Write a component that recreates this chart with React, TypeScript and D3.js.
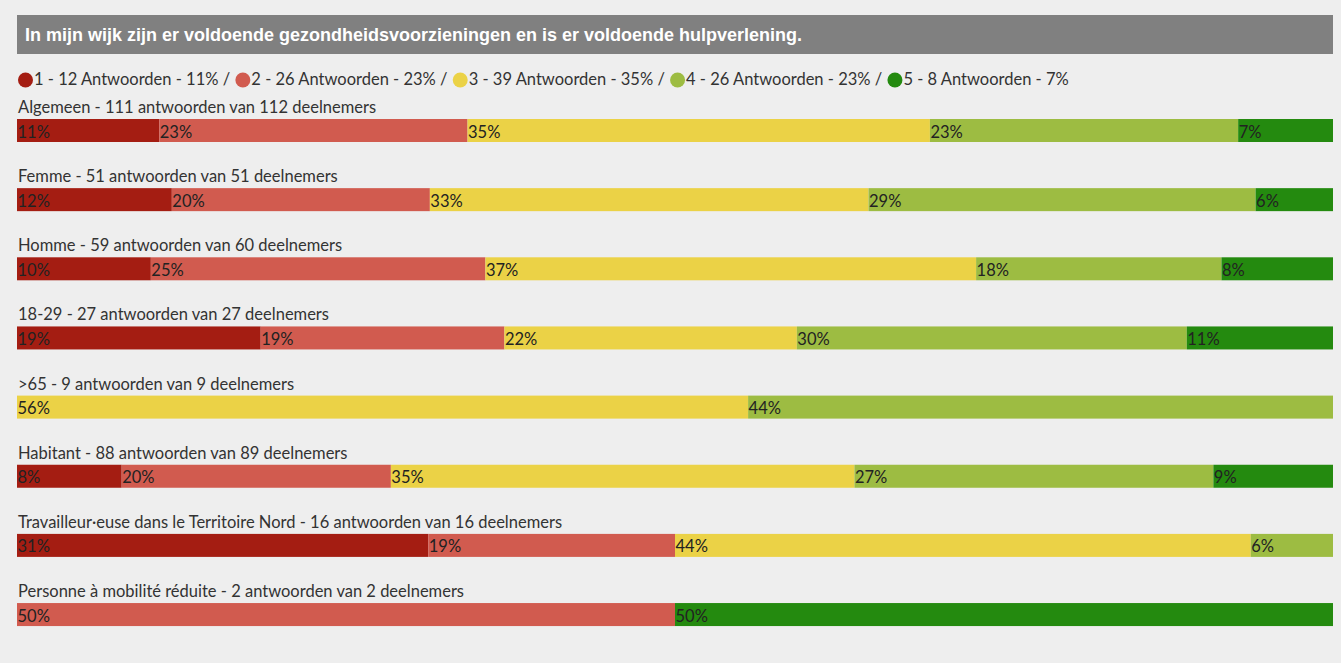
import { useEffect, useRef } from "react"
import * as d3 from "d3"

const title = "In mijn wijk zijn er voldoende gezondheidsvoorzieningen en is er voldoende hulpverlening."

const answers = ["1", "2", "3", "4", "5"]
const colors = ["#a41d12", "#d15b4f", "#ebd246", "#9dbc42", "#248a0f"]

const legendCounts = [12, 26, 39, 26, 8]
const legendPcts = ["11%", "23%", "35%", "23%", "7%"]

const groups = [
  "Algemeen - 111 antwoorden van 112 deelnemers",
  "Femme - 51 antwoorden van 51 deelnemers",
  "Homme - 59 antwoorden van 60 deelnemers",
  "18-29 - 27 antwoorden van 27 deelnemers",
  ">65 - 9 antwoorden van 9 deelnemers",
  "Habitant - 88 antwoorden van 89 deelnemers",
  "Travailleur·euse dans le Territoire Nord - 16 antwoorden van 16 deelnemers",
  "Personne à mobilité réduite - 2 antwoorden van 2 deelnemers",
]

// answer counts per group (1..5)
const counts = [
  [12, 26, 39, 26, 8],
  [6, 10, 17, 15, 3],
  [6, 15, 22, 11, 5],
  [5, 5, 6, 8, 3],
  [0, 0, 5, 4, 0],
  [7, 18, 31, 24, 8],
  [5, 3, 7, 1, 0],
  [0, 1, 0, 0, 1],
]

// percentages as printed on the bars
const pctLabels = [
  ["11%", "23%", "35%", "23%", "7%"],
  ["12%", "20%", "33%", "29%", "6%"],
  ["10%", "25%", "37%", "18%", "8%"],
  ["19%", "19%", "22%", "30%", "11%"],
  ["", "", "56%", "44%", ""],
  ["8%", "20%", "35%", "27%", "9%"],
  ["31%", "19%", "44%", "6%", ""],
  ["", "50%", "", "", "50%"],
]

const W = 1341
const H = 663
const FONT = "Lato, 'Open Sans', sans-serif"
const FS = 16.5

export default function App() {
  const svgRef = useRef<SVGSVGElement>(null)

  useEffect(() => {
    const svgEl = svgRef.current
    if (!svgEl) return
    const svg = d3.select(svgEl)
    svg.selectAll("*").remove()

    const left = 17
    const right = 1333

    svg.append("rect").attr("width", W).attr("height", H).attr("fill", "#eeeeee")

    // title bar
    svg.append("rect")
      .attr("x", left).attr("y", 15).attr("width", right - left).attr("height", 39)
      .attr("fill", "#808080")
    svg.append("text")
      .attr("x", 25).attr("y", 41)
      .attr("fill", "#ffffff")
      .attr("font-family", "'Liberation Sans', Arial, sans-serif")
      .attr("font-weight", "bold")
      .attr("font-size", 18)
      .text(title)

    // legend
    const legend = svg.append("g").attr("font-family", FONT).attr("font-size", FS).attr("fill", "#333")
    let lx = 18
    answers.forEach((a, i) => {
      legend.append("circle").attr("cx", lx + 7.5).attr("cy", 80).attr("r", 7.5).attr("fill", colors[i])
      lx += 16
      const t = legend.append("text")
        .attr("x", lx).attr("y", 85)
        .style("white-space", "pre")
        .text(`${a} - ${legendCounts[i]} Antwoorden - ${legendPcts[i]}${i < answers.length - 1 ? " / " : ""}`)
      const node = t.node() as SVGTextElement
      lx += node.getComputedTextLength() + 1
    })

    const x = d3.scaleLinear().domain([0, 1]).range([left, right])
    const y = d3.scaleBand<number>()
      .domain(d3.range(groups.length))
      .range([119, 119 + 69.15 * groups.length])
    const barH = 23

    const rows = svg.append("g").selectAll("g").data(groups).join("g")
      .attr("transform", (_, i) => `translate(0,${y(i)})`)

    rows.append("text")
      .attr("x", 18).attr("y", -6)
      .attr("font-family", FONT).attr("font-size", FS).attr("fill", "#333")
      .text(d => d)

    rows.each(function (_, gi) {
      const row = d3.select(this)
      const c = counts[gi]
      const total = d3.sum(c)
      let acc = 0
      const segs = c.map((v, k) => {
        const s = { k, x0: acc / total, x1: (acc + v) / total, v }
        acc += v
        return s
      }).filter(s => s.v > 0)

      row.selectAll("rect").data(segs).join("rect")
        .attr("x", s => x(s.x0))
        .attr("y", 0)
        .attr("width", s => x(s.x1) - x(s.x0))
        .attr("height", barH)
        .attr("fill", s => colors[s.k])

      row.selectAll("text.pct").data(segs).join("text")
        .attr("class", "pct")
        .attr("x", s => x(s.x0) + 0.5)
        .attr("y", 18.5)
        .attr("font-family", FONT).attr("font-size", FS).attr("fill", "#222")
        .text(s => pctLabels[gi][s.k])
    })
  }, [])

  return (
    <svg
      ref={svgRef}
      width={W}
      height={H}
      style={{ position: "absolute", left: 0, top: 0, display: "block" }}
    />
  )
}
